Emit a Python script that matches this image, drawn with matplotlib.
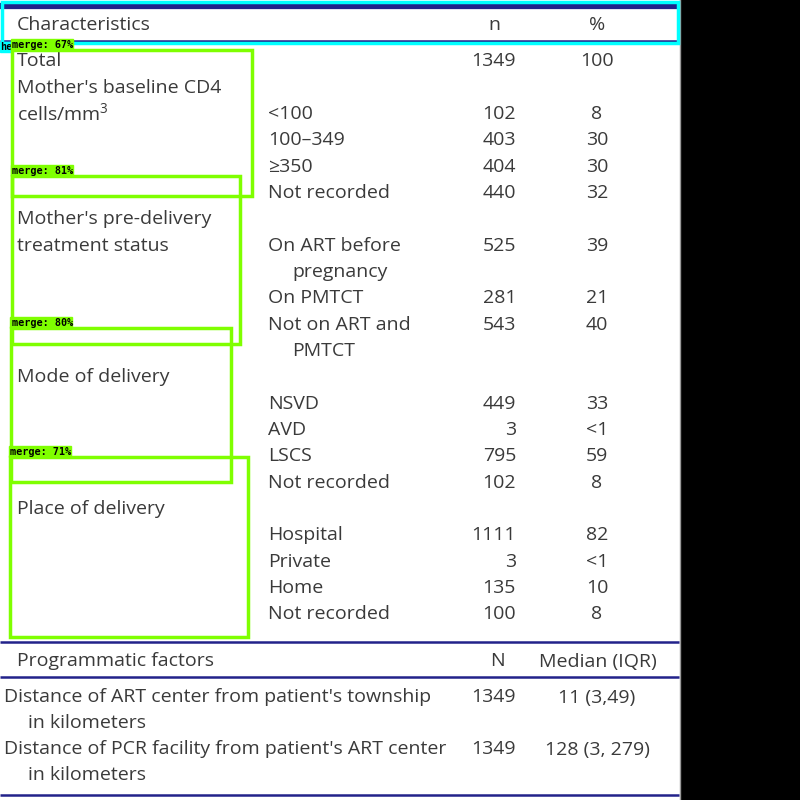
import matplotlib.pyplot as plt
from matplotlib.patches import Rectangle

# table content
header = ["Characteristics", "n", "%"]
groups = ["Total", "Mother's baseline CD4\ncells/mm$^{\\mathregular{3}}$", "Mother's pre-delivery\ntreatment status",
          "Mode of delivery", "Place of delivery"]
levels = [[],
          ["<100", "100\u2013349", "\u2265350", "Not recorded"],
          ["On ART before\n pregnancy", "On PMTCT", "Not on ART and\n PMTCT"],
          ["NSVD", "AVD", "LSCS", "Not recorded"],
          ["Hospital", "Private", "Home", "Not recorded"]]
n_vals = [["1349"], ["102", "403", "404", "440"], ["525", "281", "543"],
          ["449", "3", "795", "102"], ["1111", "3", "135", "100"]]
pct_vals = [["100"], ["8", "30", "30", "32"], ["39", "21", "40"],
            ["33", "<1", "59", "8"], ["82", "<1", "10", "8"]]

prog_header = ["Programmatic factors", "N", "Median (IQR)"]
prog_labels = ["Distance of ART center from patient's township\n in kilometers",
               "Distance of PCR facility from patient's ART center\n in kilometers"]
prog_n = ["1349", "1349"]
prog_median = ["11 (3,49)", "128 (3, 279)"]

# detection overlay boxes (label, x0, y0, x1, y1)
merge_boxes = [("merge: 67%", 12, 50, 252, 196),
               ("merge: 81%", 12, 176, 240, 344),
               ("merge: 80%", 11, 328, 231, 482),
               ("merge: 71%", 10, 457, 248, 637)]

txt = dict(family=["Open Sans", "DejaVu Sans"], fontsize=14, color="#3a3a3a", va="center")
navy = "#22228a"
pitch = 26.33
indent = 24


def cell(x, y, s, step=pitch, **kw):
    # multi-line cell, continuation lines starting with a space are indented
    for k, line in enumerate(s.split("\n")):
        dx = indent if line.startswith(" ") else 0
        ax.text(x + dx, y + k * step, line.strip(), **txt, **kw)
    return len(s.split("\n"))


fig = plt.figure(figsize=(8, 8), dpi=100)
ax = fig.add_axes([0, 0, 1, 1])
ax.set_xlim(0, 800)
ax.set_ylim(800, 0)
ax.axis('off')

ax.add_patch(Rectangle((0, 0), 800, 800, color="black", zorder=0))
ax.add_patch(Rectangle((0, 0), 679, 800, color="white", zorder=0))
ax.plot([679.5, 679.5], [0, 800], color="#999999", lw=1)

# rules
ax.plot([0, 679], [5.5, 5.5], color=navy, lw=4.5, solid_capstyle="butt")
for y in [40.5, 642, 677, 795]:
    ax.plot([0, 679], [y, y], color=navy, lw=1.8, solid_capstyle="butt")

x_lab, x_lev, x_n, x_pct = 17, 268, 516, 597
ax.text(x_lab, 25, header[0], **txt)
ax.text(494, 25, header[1], ha="center", **txt)
ax.text(x_pct, 25, header[2], ha="center", **txt)

y0 = 61.5
slot = 0
for g, lv, nv, pv in zip(groups, levels, n_vals, pct_vals):
    cell(x_lab, y0 + slot * pitch, g)
    if not lv:
        ax.text(x_n, y0 + slot * pitch, nv[0], ha="right", **txt)
        ax.text(x_pct, y0 + slot * pitch, pv[0], ha="center", **txt)
        slot += 1
        continue
    slot += 1
    for lab, n, p in zip(lv, nv, pv):
        y = y0 + slot * pitch
        nl = cell(x_lev, y, lab)
        ax.text(x_n, y, n, ha="right", **txt)
        ax.text(x_pct, y, p, ha="center", **txt)
        slot += nl

ax.text(x_lab, 661.5, prog_header[0], **txt)
ax.text(497, 661.5, prog_header[1], ha="center", **txt)
ax.text(598, 661.5, prog_header[2], ha="center", **txt)
for i, (lab, n, m) in enumerate(zip(prog_labels, prog_n, prog_median)):
    y = 697.5 + i * 2 * 26
    cell(4, y, lab, step=26)
    ax.text(x_n, y, n, ha="right", **txt)
    ax.text(597, y, m, ha="center", **txt)

# overlay: header box
ax.add_patch(Rectangle((1.5, 1.5), 676, 41, fill=False, ec="#00ffff", lw=2.5, zorder=5))
ax.add_patch(Rectangle((0, 42), 11, 10, color="#00ffff", zorder=5))
ax.text(0, 47.5, "he", family="DejaVu Sans Mono", weight="bold", fontsize=7.3,
        color="black", va="center", zorder=6)

# overlay: merge boxes
for lab, x0, y0b, x1, y1 in merge_boxes:
    ax.add_patch(Rectangle((x0, y0b), x1 - x0, y1 - y0b, fill=False, ec="#7fff00", lw=2.5, zorder=7))
    ax.add_patch(Rectangle((x0 - 1, y0b - 11), 62, 10.5, color="#7fff00", zorder=8))
    ax.text(x0 + 0.5, y0b - 5.5, lab, family="DejaVu Sans Mono", weight="bold", fontsize=7.3,
            color="black", va="center", zorder=9)

plt.savefig("out.png", dpi=100)
